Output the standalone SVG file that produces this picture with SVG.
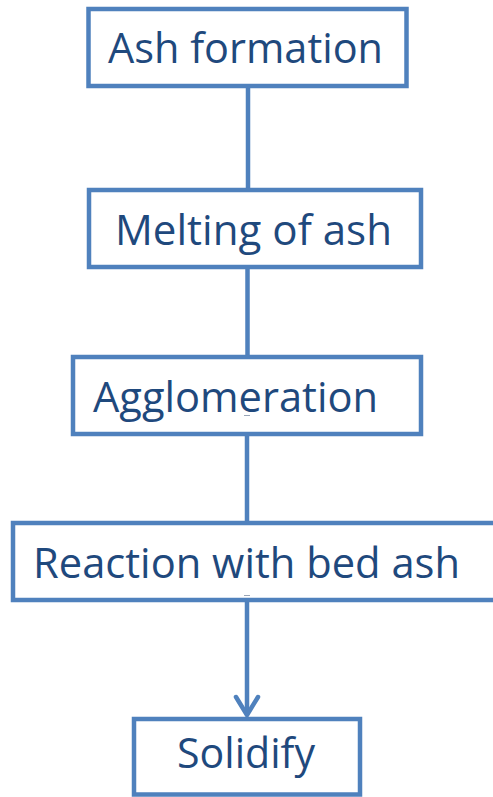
<svg xmlns="http://www.w3.org/2000/svg" width="493" height="797" viewBox="0 0 493 797">
<style>
.box{fill:#fff;stroke:#4F81BD;stroke-width:4.5}
.lbl{font-family:"Open Sans","Liberation Sans",sans-serif;font-size:42px;fill:#1F497D}
.con{stroke:#4F81BD;stroke-width:4.5;fill:none}
.tick{stroke:#9aa6b8;stroke-width:1}
</style>
<defs>
<marker id="arr" markerUnits="userSpaceOnUse" markerWidth="26" markerHeight="30" refX="21" refY="13" orient="auto" viewBox="0 0 26 26">
<path d="M3,2 L21,13 L3,24" fill="none" stroke="#4F81BD" stroke-width="4.5" stroke-linecap="round" stroke-linejoin="round"/>
</marker>
</defs>
<rect x="0" y="0" width="493" height="797" fill="#fff"/>
<g id="connectors">
<line class="con" x1="248" y1="86" x2="248" y2="190"/>
<line class="con" x1="247.5" y1="267" x2="247.5" y2="357"/>
<line class="con" x1="247" y1="434" x2="247" y2="523"/>
<line class="con" x1="247" y1="600" x2="247" y2="715" marker-end="url(#arr)"/>
</g>
<g id="n1">
<rect class="box" x="88.5" y="9" width="318" height="77"/>
<text class="lbl" x="108" y="63" textLength="275" lengthAdjust="spacingAndGlyphs">Ash formation</text>
</g>
<g id="n2">
<rect class="box" x="89" y="190" width="332" height="77"/>
<text class="lbl" x="115" y="245" textLength="277" lengthAdjust="spacingAndGlyphs">Melting of ash</text>
</g>
<g id="n3">
<rect class="box" x="73" y="357" width="348" height="77"/>
<text class="lbl" x="93" y="412" textLength="285" lengthAdjust="spacingAndGlyphs">Agglomeration</text>
<line class="tick" x1="244" y1="415.5" x2="250" y2="415.5"/>
</g>
<g id="n4">
<rect class="box" x="13" y="523" width="490" height="77"/>
<text class="lbl" x="33" y="578" textLength="427" lengthAdjust="spacingAndGlyphs">Reaction with bed ash</text>
<line class="tick" x1="244" y1="595.5" x2="250" y2="595.5"/>
</g>
<g id="n5">
<rect class="box" x="134" y="719" width="226" height="75.5"/>
<text class="lbl" x="177" y="768" textLength="138" lengthAdjust="spacingAndGlyphs">Solidify</text>
</g>
</svg>
